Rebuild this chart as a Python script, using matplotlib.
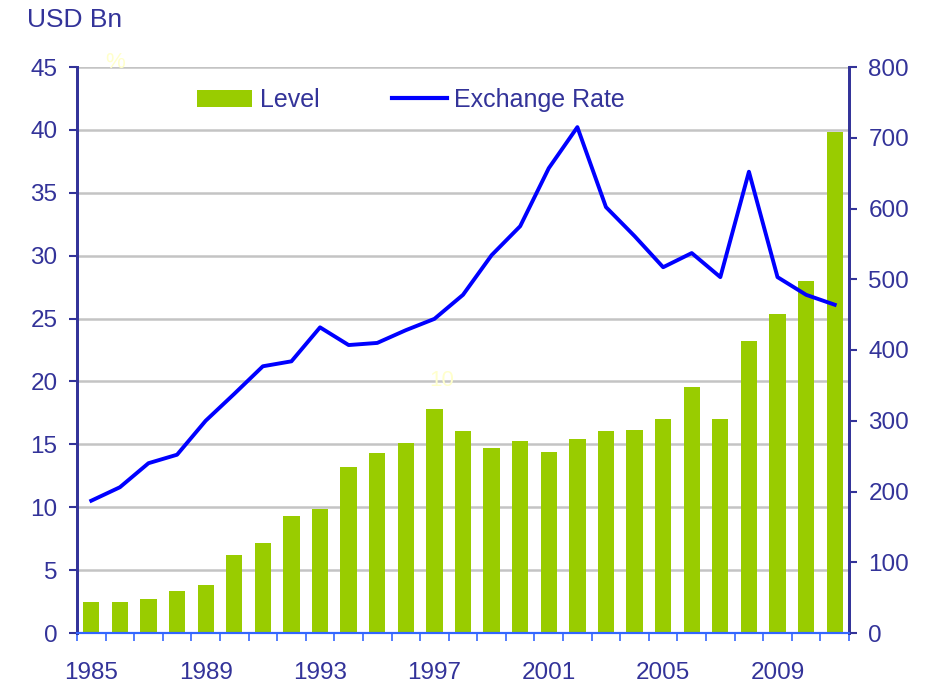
import numpy as np
import matplotlib
matplotlib.use('Agg')
import matplotlib.pyplot as plt
from matplotlib.patches import Patch
from matplotlib.lines import Line2D

plt.rcParams['font.family'] = ['Liberation Sans', 'DejaVu Sans']

years = list(range(1985, 2012))
level = [2.5, 2.5, 2.7, 3.3, 3.8, 6.2, 7.15, 9.3, 9.85, 13.2, 14.3, 15.1, 17.8,
         16.05, 14.7, 15.25, 14.4, 15.4, 16.05, 16.1, 17.0, 19.55, 17.0, 23.2,
         25.35, 28.0, 39.8]
exch_rate = [187, 206, 240, 252, 300, 338, 377, 384, 432, 407, 410, 428, 444,
             478, 534, 575, 657, 715, 602, 561, 517, 537, 503, 652, 503, 478, 464]
year_labels = ['1985', '1989', '1993', '1997', '2001', '2005', '2009']

navy = '#333399'
green = '#99CC00'
blue = '#0000FF'
fs = 17.5

fig = plt.figure(figsize=(9.34, 6.84), dpi=100)
ax = fig.add_axes([77/934, 1-633/684, 772/934, 566/684])
ax2 = ax.twinx()

x = np.arange(len(years))
ax.bar(x, level, width=0.57, color=green, zorder=2)
ax2.plot(x, exch_rate, color=blue, lw=2.8, zorder=3)

ax.set_xlim(-0.5, len(years) - 0.5)
ax.set_ylim(0, 45)
ax2.set_ylim(0, 800)
ax.set_yticks(np.arange(0, 46, 5))
ax2.set_yticks(np.arange(0, 801, 100))
ax.yaxis.grid(True, color='#c4c4c4', lw=1.8, zorder=0)
ax.set_axisbelow(True)

idx = [years.index(int(y)) for y in year_labels]
ax.set_xticks(idx)
ax.set_xticklabels(year_labels)
ax.set_xticks(np.arange(-0.5, len(years), 1), minor=True)
ax.tick_params(axis='x', which='major', length=0, pad=21, labelsize=fs, labelcolor=navy)
ax.tick_params(axis='x', which='minor', length=6, width=1.2, color='#3366FF')
ax.tick_params(axis='y', length=6, width=1.5, color=navy, labelsize=fs, labelcolor=navy, pad=8)
ax2.tick_params(axis='y', length=6, width=1.5, color=navy, labelsize=fs, labelcolor=navy, pad=8)

for a in (ax, ax2):
    a.spines['top'].set_visible(False)
    a.spines['left'].set_color(navy)
    a.spines['right'].set_color(navy)
    a.spines['left'].set_linewidth(2)
    a.spines['right'].set_linewidth(2)
    a.spines['bottom'].set_color('#3366FF')
    a.spines['bottom'].set_linewidth(1.5)

handles = [Patch(facecolor=green, edgecolor='none'), Line2D([], [], color=blue, lw=3)]
ax2.legend(handles, ['Level', 'Exchange Rate'], loc='center', bbox_to_anchor=(411/934, 1-100/684),
           bbox_transform=fig.transFigure, ncol=2, frameon=False, fontsize=18,
           labelcolor=navy, handlelength=2.2, handleheight=0.65, columnspacing=2.9,
           handletextpad=0.3, borderpad=0, borderaxespad=0)

fig.text(27/934, 1-20/684, 'USD Bn', fontsize=19, color=navy, va='center', ha='left')
fig.text(115/934, 1-63/684, '%', fontsize=16, color='#FFFFCC', va='center', ha='center')
fig.text(442/934, 1-381/684, '10', fontsize=16, color='#FFFFCC', va='center', ha='center')

fig.savefig('out.png', dpi=100)
